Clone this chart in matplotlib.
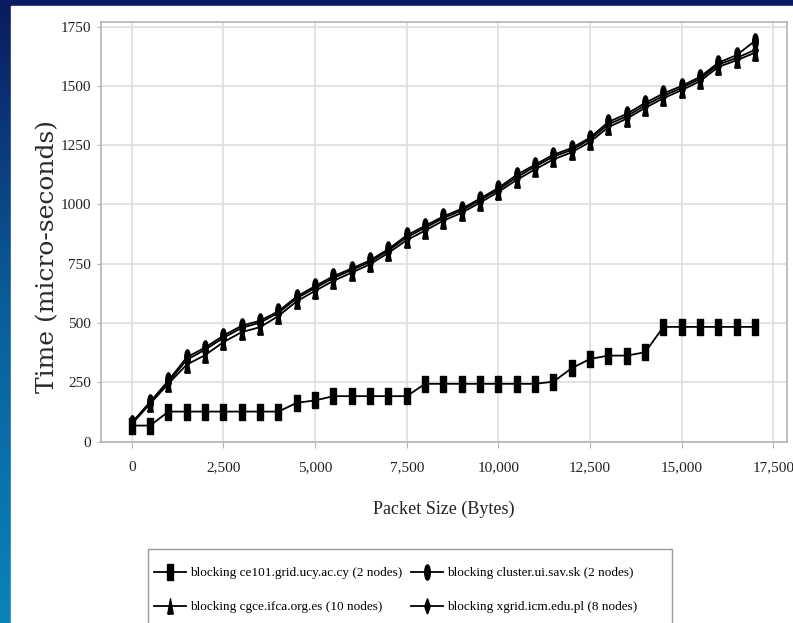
import numpy as np
import matplotlib
matplotlib.use("Agg")
import matplotlib.pyplot as plt
from matplotlib.patches import Rectangle

# packet sizes (bytes) and measured times (micro-seconds)
packet_size = list(range(0, 17001, 500))

ce101 = [68, 68, 127, 127, 127, 127, 127, 127, 127, 164, 174, 192, 192, 192, 192, 192,
         244, 244, 244, 244, 244, 244, 244, 253, 310, 349, 363, 363, 377,
         484, 484, 484, 484, 484, 484]
cluster = [80, 168, 258, 356, 397, 447, 489, 510, 550, 612, 656, 698, 730, 765, 812, 870,
           910, 950, 982, 1025, 1070, 1125, 1168, 1210, 1238, 1282, 1348, 1382, 1428,
           1468, 1500, 1538, 1598, 1630, 1690]
cgce = [75, 160, 245, 325, 365, 420, 462, 483, 530, 592, 636, 678, 713, 748, 796, 850,
        890, 932, 965, 1008, 1053, 1104, 1148, 1190, 1220, 1264, 1326, 1362, 1407,
        1448, 1482, 1520, 1580, 1608, 1640]
xgrid = [78, 165, 252, 345, 388, 438, 480, 502, 543, 605, 648, 690, 724, 758, 806, 862,
         902, 943, 975, 1018, 1063, 1115, 1160, 1202, 1230, 1275, 1338, 1372, 1418,
         1458, 1492, 1530, 1590, 1618, 1652]

series_labels = ["blocking ce101.grid.ucy.ac.cy (2 nodes)",
                 "blocking cgce.ifca.org.es (10 nodes)",
                 "blocking cluster.ui.sav.sk (2 nodes)",
                 "blocking xgrid.icm.edu.pl (8 nodes)"]

x_ticks = [0, 2500, 5000, 7500, 10000, 12500, 15000, 17500]
x_tick_labels = ["0", "2,500", "5,000", "7,500", "10,000", "12,500", "15,000", "17,500"]
y_ticks = [0, 250, 500, 750, 1000, 1250, 1500, 1750]

# tall, narrow marker shapes (the original image is horizontally squeezed)
w = 0.36
m_square = [(-w, -1), (w, -1), (w, 1), (-w, 1), (-w, -1)]
t = np.linspace(0, 2 * np.pi, 30)
m_circle = list(zip(w * np.cos(t), np.sin(t)))
m_tri = [(-w, -1), (w, -1), (0, 1), (-w, -1)]
m_diam = [(0, -1), (w, 0), (0, 1), (-w, 0), (0, -1)]

W, H = 793, 623
fig = plt.figure(figsize=(W / 100, H / 100), dpi=100)

# slide background: blue gradient frame on the left and top
bg = fig.add_axes([0, 0, 1, 1], zorder=-10)
grad = np.linspace(0, 1, 256).reshape(-1, 1)
cmap = matplotlib.colors.LinearSegmentedColormap.from_list("slide", ["#0b1b60", "#0a5f9c", "#0a84b8"])
bg.imshow(grad, aspect="auto", cmap=cmap, extent=[0, 1, 0, 1], origin="upper")
bg.add_patch(Rectangle((11 / W, 0), 1, 1 - 6 / H, transform=bg.transAxes, color="white"))
# legend frame (drawn by hand so the padding can differ from the legend's own)
bg.add_patch(Rectangle((148 / W, -0.01), 524 / W, 0.01 + 1 - 549 / H, transform=bg.transAxes,
                       facecolor="white", edgecolor="#999999", lw=1.0))
bg.set_axis_off()

ax = fig.add_axes([101 / W, 1 - 441.7 / H, 686 / W, 419.4 / H])

styles = [(ce101, m_square), (cgce, m_tri), (cluster, m_circle), (xgrid, m_diam)]
for (vals, mk), lab in zip(styles, series_labels):
    ax.plot(packet_size, vals, color="black", lw=1.3, marker=mk, markersize=11,
            markerfacecolor="black", markeredgecolor="black", label=lab)

ax.set_xlim(-840, 17870)
ax.set_ylim(5, 1768)
ax.set_xticks(x_ticks)
ax.set_xticklabels(x_tick_labels)
ax.set_yticks(y_ticks)
ax.grid(True, color="#dedede", lw=1.2)
ax.set_axisbelow(True)
for s in ax.spines.values():
    s.set_color("#b4b4b4")
    s.set_linewidth(1.2)
ax.tick_params(axis="x", colors="#b4b4b4", length=4, pad=10, labelcolor="#222222")
ax.tick_params(axis="y", colors="#b4b4b4", length=3, pad=4, labelcolor="#222222")
for lbl in ax.get_xticklabels() + ax.get_yticklabels():
    lbl.set_fontfamily("Liberation Serif")
    lbl.set_fontsize(11)

ax.set_xlabel("Packet Size (Bytes)", family="Liberation Serif", fontsize=13,
              color="#222222", labelpad=19)
fig.text(48 / W, 1 - 256 / H, "Time (micro-seconds)", rotation=90, ha="center",
         va="center", family="DejaVu Serif", fontsize=18, color="#2a2a2a")

leg = ax.legend(loc="upper left", bbox_to_anchor=(154 / W, 1 - 567 / H),
                bbox_transform=fig.transFigure, ncol=2, borderaxespad=0, borderpad=0,
                prop={"family": "Liberation Serif", "size": 9.5}, frameon=False,
                handlelength=2.4, handletextpad=0.3, labelspacing=1.65,
                columnspacing=0.7, markerscale=1.0)

fig.savefig("out.png", dpi=100)
